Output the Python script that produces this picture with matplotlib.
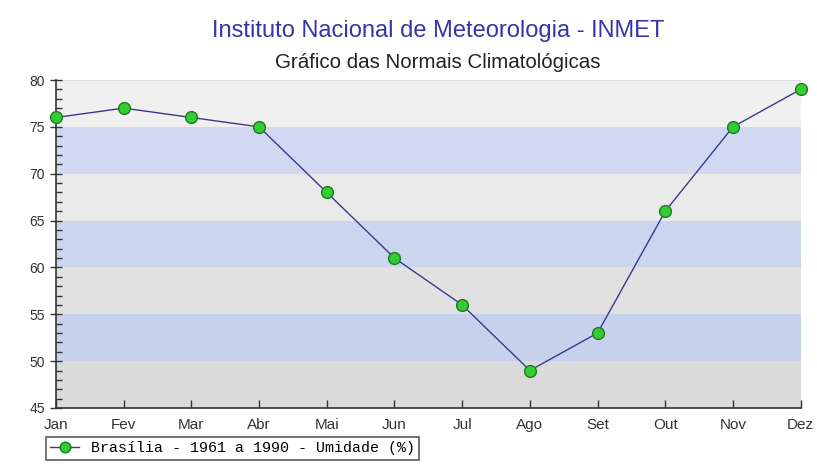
import numpy as np
import matplotlib
matplotlib.use("Agg")
import matplotlib.pyplot as plt

months = ["Jan", "Fev", "Mar", "Abr", "Mai", "Jun", "Jul", "Ago", "Set", "Out", "Nov", "Dez"]
humidity = [76, 77, 76, 75, 68, 61, 56, 49, 53, 66, 75, 79]
y_ticks = [45, 50, 55, 60, 65, 70, 75, 80]
title = "Instituto Nacional de Meteorologia - INMET"
subtitle = "Gráfico das Normais Climatológicas"
series_label = "Brasília - 1961 a 1990 - Umidade (%)"

plt.rcParams['font.family'] = ['Liberation Sans', 'DejaVu Sans']

fig = plt.figure(figsize=(8.17, 4.72), dpi=100)
ax = fig.add_axes([0.0685, 0.1356, 0.9115, 0.6949])

x = np.arange(len(months))
ax.set_xlim(0, len(months) - 1)
ax.set_ylim(45, 80)

# alternating bands, grey ones getting darker toward the bottom
grey_top, grey_bot = np.array([0.955, 0.955, 0.955]), np.array([0.855, 0.855, 0.855])
blue_top, blue_bot = np.array([0.83, 0.865, 0.955]), np.array([0.775, 0.81, 0.915])
for lo in range(45, 80, 5):
    t = (lo - 45) / 35.0
    if (lo // 5) % 2 == 1:   # 45, 55, 65, 75 -> grey
        c = grey_bot + (grey_top - grey_bot) * t
    else:
        c = blue_bot + (blue_top - blue_bot) * t
    ax.axhspan(lo, lo + 5, color=c, lw=0, zorder=0)

ax.plot(x, humidity, color="#3a3a8c", lw=1.0, marker="o", markersize=8.5,
        markerfacecolor="#33cc33", markeredgecolor="#1f7a1f", markeredgewidth=1.0,
        label=series_label, clip_on=False, zorder=3)

ax.set_xticks(x)
ax.set_xticklabels(months, fontsize=11, color="#333333")
ax.set_yticks(y_ticks)
ax.set_yticklabels([str(v) for v in y_ticks], fontsize=10, color="#333333")
ax.set_yticks(np.arange(45, 81, 1), minor=True)
ax.tick_params(axis="y", which="major", direction="inout", length=8, width=1, color="#333333", pad=4)
ax.tick_params(axis="y", which="minor", direction="in", length=4, width=1, color="#333333")
ax.tick_params(axis="x", which="major", direction="in", length=6, width=1, color="#333333", pad=7)

for s in ["top", "right"]:
    ax.spines[s].set_visible(False)
for s in ["left", "bottom"]:
    ax.spines[s].set_color("#333333")
    ax.spines[s].set_linewidth(1.2)
ax.axhline(80, color="#dddddd", lw=1.5, zorder=1)

fig.text(0.536, 0.934, title, ha="center", va="center", fontsize=17, color="#3535a8")
fig.text(0.536, 0.868, subtitle, ha="center", va="center", fontsize=14.8, color="#222222")

leg = ax.legend(loc="upper left", bbox_to_anchor=(-0.0134, -0.088), frameon=True, fancybox=False,
                prop={"family": "Liberation Mono", "size": 10.8}, handlelength=1.9,
                markerscale=0.9, borderpad=0.3, handletextpad=0.8, borderaxespad=0)
leg.get_frame().set_edgecolor("#333333")
leg.get_frame().set_linewidth(1.2)
leg.get_frame().set_facecolor("white")

fig.savefig("out.png", dpi=100)
